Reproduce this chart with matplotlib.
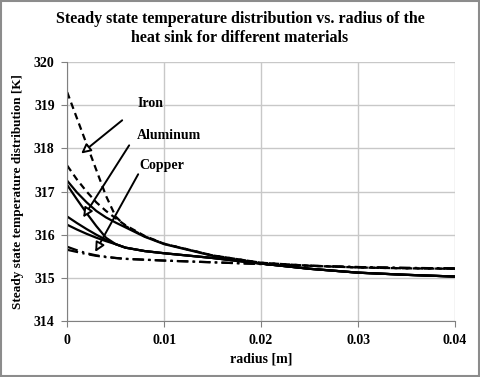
import matplotlib
matplotlib.use("Agg")
import matplotlib.pyplot as plt
from matplotlib.patches import Rectangle

# radius [m] sample points
radius = [0, 0.001, 0.002, 0.003, 0.004, 0.005, 0.006, 0.008, 0.01,
          0.015, 0.02, 0.025, 0.03, 0.035, 0.04]

# temperature curves [K]
iron_dashed = [319.3, 318.7, 318.1, 317.5, 316.9, 316.42, 316.2, 315.96, 315.79,
               315.52, 315.35, 315.28, 315.24, 315.22, 315.21]
alu_dashed = [317.6, 317.28, 317.0, 316.75, 316.55, 316.38, 316.22, 315.97, 315.79,
              315.52, 315.35, 315.28, 315.24, 315.22, 315.21]
iron_solid = [317.25, 316.98, 316.75, 316.55, 316.4, 316.28, 316.17, 315.95, 315.78,
              315.51, 315.33, 315.21, 315.12, 315.07, 315.03]
steep_solid = [317.15, 316.82, 316.5, 316.2, 315.93, 315.78, 315.7, 315.62, 315.57,
               315.46, 315.33, 315.21, 315.12, 315.07, 315.03]
alu_solid = [316.42, 316.27, 316.13, 316.0, 315.88, 315.78, 315.7, 315.62, 315.57,
             315.46, 315.33, 315.21, 315.12, 315.07, 315.03]
cu_solid = [316.23, 316.12, 316.02, 315.93, 315.85, 315.78, 315.7, 315.62, 315.57,
            315.46, 315.33, 315.21, 315.12, 315.07, 315.03]
cu_dashdot = [315.72, 315.64, 315.57, 315.52, 315.49, 315.46, 315.44, 315.42, 315.4,
              315.36, 315.32, 315.28, 315.25, 315.23, 315.22]
cu_dashdot2 = [315.65, 315.6, 315.55, 315.51, 315.48, 315.46, 315.44, 315.42, 315.4,
               315.36, 315.32, 315.28, 315.25, 315.23, 315.22]

x_ticks = [0, 0.01, 0.02, 0.03, 0.04]
x_tick_labels = ['0', '0.01', '0.02', '0.03', '0.04']
y_ticks = [314, 315, 316, 317, 318, 319, 320]

plt.rcParams['font.family'] = ['Liberation Serif', 'DejaVu Serif']
plt.rcParams['font.weight'] = 'bold'

fig = plt.figure(figsize=(4.8, 3.77), dpi=100, facecolor='w')
ax = fig.add_axes([0.140, 0.1485, 0.808, 0.687])

# grey frame round the whole chart
fig.patches.append(Rectangle((0.002, 0.003), 0.995, 0.994, transform=fig.transFigure,
                             fill=False, ec='#8c8c8c', lw=1.5))

lw = 1.6
ax.plot(radius, iron_dashed, color='k', lw=lw, ls=(0, (3, 2)))
ax.plot(radius, alu_dashed, color='k', lw=lw, ls=(0, (3, 2)))
ax.plot(radius, iron_solid, color='k', lw=lw, ls='-')
ax.plot(radius, steep_solid, color='k', lw=lw, ls='-')
ax.plot(radius, alu_solid, color='k', lw=lw, ls='-')
ax.plot(radius, cu_solid, color='k', lw=lw, ls='-')
ax.plot(radius, cu_dashdot, color='k', lw=lw, ls=(0, (5, 2, 1, 2)))
ax.plot(radius, cu_dashdot2, color='k', lw=lw, ls=(0, (5, 2, 1, 2)))

# annotations with arrows
arrow_kw = dict(arrowstyle='-|>', color='k', lw=1.4, mutation_scale=14,
                shrinkA=0, shrinkB=0)
ax.annotate('', xy=(0.00144, 317.88), xytext=(0.00567, 318.65),
            arrowprops=dict(arrow_kw, fc='w'))
ax.annotate('', xy=(0.00165, 316.40), xytext=(0.00639, 318.07),
            arrowprops=dict(arrow_kw, fc='w'))
ax.annotate('', xy=(0.00289, 315.60), xytext=(0.00732, 317.40),
            arrowprops=dict(arrow_kw, fc='w'))
ax.text(0.00722, 319.05, 'Iron', fontsize=10, fontweight='bold', va='center')
ax.text(0.00722, 318.30, 'Aluminum', fontsize=10, fontweight='bold', va='center')
ax.text(0.00742, 317.60, 'Copper', fontsize=10, fontweight='bold', va='center')

ax.set_xlim(0, 0.04)
ax.set_ylim(314, 320)
ax.set_xticks(x_ticks)
ax.set_xticklabels(x_tick_labels)
ax.set_yticks(y_ticks)
ax.grid(True, color='#c8c8c8', lw=1.0)
ax.set_axisbelow(True)
for side in ['top', 'right']:
    ax.spines[side].set_visible(False)
for side in ['left', 'bottom']:
    ax.spines[side].set_color('#808080')
ax.tick_params(direction='out', length=4, color='#808080', labelsize=10, pad=5)
for lbl in ax.get_xticklabels() + ax.get_yticklabels():
    lbl.set_fontweight('bold')

ax.set_xlabel('radius [m]', fontsize=10, fontweight='bold', labelpad=4)
ax.set_ylabel('Steady state temperature distribution [K]', fontsize=9.5,
              fontweight='bold', labelpad=7)
fig.text(0.5, 0.924, 'Steady state temperature distribution vs. radius of the\n'
         'heat sink for different materials', ha='center', va='center',
         fontsize=11.5, fontweight='bold', linespacing=1.2)

fig.savefig('out.png', dpi=100)
